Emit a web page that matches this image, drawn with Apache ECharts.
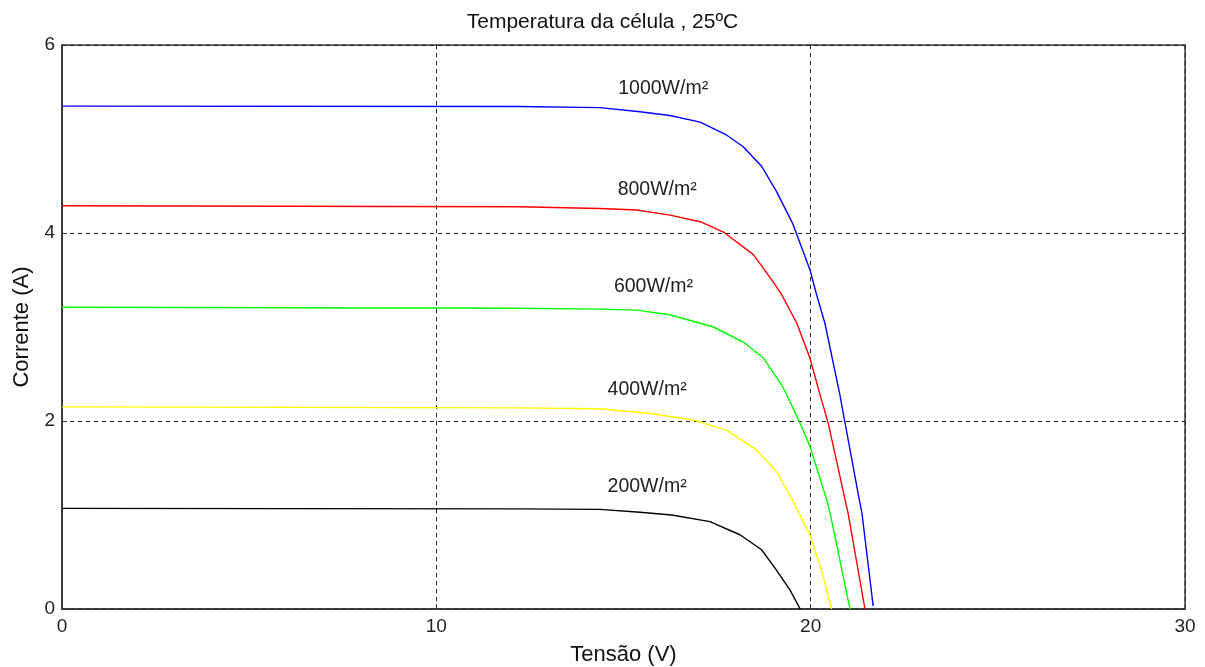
<!DOCTYPE html>
<html>
<head>
<meta charset="utf-8">
<script src="https://cdn.jsdelivr.net/npm/echarts@6/dist/echarts.min.js"></script>
<style>
  html, body { margin: 0; padding: 0; background: #fff; }
  #ivCharts { width: 1205px; height: 667px; }
</style>
</head>
<body>
<div id="ivCharts"></div>
<script>
// curvas I-V: [tensão (V), corrente (A)]
const curve1000 = [[0, 5.35], [12.2, 5.345], [14.37, 5.334], [15.44, 5.29], [16.24, 5.25], [17.05, 5.18], [17.76, 5.04], [18.19, 4.92], [18.69, 4.71], [19.09, 4.44], [19.52, 4.1], [19.98, 3.61], [20.16, 3.34], [20.38, 3.04], [20.78, 2.28], [20.92, 1.975], [21.3, 1.16], [21.37, 1.02], [21.67, 0.03]]
const curve800 = [[0, 4.29], [12.2, 4.28], [14.37, 4.26], [15.35, 4.245], [16.24, 4.19], [17.05, 4.12], [17.67, 4.01], [18.47, 3.77], [19.0, 3.48], [19.23, 3.34], [19.63, 3.04], [19.98, 2.67], [20.25, 2.28], [20.47, 1.975], [20.92, 1.16], [21.0, 1.02], [21.45, 0]]
const curve600 = [[0, 3.21], [12.2, 3.2], [14.37, 3.19], [15.35, 3.18], [16.24, 3.13], [17.4, 3.0], [18.2, 2.84], [18.74, 2.67], [19.23, 2.38], [19.36, 2.28], [19.72, 1.975], [19.98, 1.73], [20.43, 1.16], [20.52, 1.02], [21.05, 0]]
const curve400 = [[0, 2.15], [12.2, 2.14], [14.37, 2.13], [15.71, 2.08], [16.87, 2.01], [17.76, 1.9], [18.56, 1.69], [19.09, 1.46], [19.49, 1.18], [19.72, 0.99], [19.98, 0.79], [20.3, 0.4], [20.56, 0]]
const curve200 = [[0, 1.07], [12.2, 1.065], [14.37, 1.06], [15.44, 1.03], [16.29, 1.0], [17.31, 0.93], [18.11, 0.79], [18.69, 0.63], [19.09, 0.41], [19.45, 0.2], [19.72, 0]]

const curveNames = ['1000W/m²', '800W/m²', '600W/m²', '400W/m²', '200W/m²']
const curveColors = ['#0000ff', '#ff0000', '#00ff00', '#ffff00', '#000000']
// posição dos rótulos (V, A)
const labelPos = [[16.06, 5.54], [15.9, 4.46], [15.8, 3.43], [15.63, 2.33], [15.63, 1.3]]

const xTicks = [0, 10, 20, 30]
const yTicks = [0, 2, 4, 6]

const fontFam = '"Liberation Sans", Arial, sans-serif'
const allCurves = [curve1000, curve800, curve600, curve400, curve200]

const dashed = { show: true, lineStyle: { color: '#222', type: [4, 4], width: 1 } }

const _ivCharts = {
    animation: false,
    title: {
        text: 'Temperatura da célula , 25ºC',
        left: 'center',
        top: 7,
        textStyle: { fontSize: 21, fontWeight: 'normal', color: '#111', fontFamily: fontFam }
    },
    grid: {
        left: 62,
        top: 45,
        width: 1123,
        height: 564,
        outerBoundsMode: 'none',
        show: true,
        borderColor: '#333',
        borderWidth: 1.5
    },
    xAxis: {
        type: 'value',
        min: xTicks[0],
        max: xTicks[xTicks.length - 1],
        interval: 10,
        name: 'Tensão (V)',
        nameLocation: 'middle',
        nameGap: 35,
        nameTextStyle: { fontSize: 22, color: '#111', fontFamily: fontFam },
        axisLine: { show: true, lineStyle: { color: '#333', width: 1.5 } },
        axisTick: { show: true, inside: true, length: 5, lineStyle: { color: '#333' } },
        axisLabel: { fontSize: 19, color: '#222', margin: 8, fontFamily: fontFam },
        splitLine: dashed
    },
    yAxis: {
        type: 'value',
        min: yTicks[0],
        max: yTicks[yTicks.length - 1],
        interval: 2,
        name: 'Corrente (A)',
        nameLocation: 'middle',
        nameGap: 29,
        nameTextStyle: { fontSize: 22, color: '#111', fontFamily: fontFam },
        axisLine: { show: true, lineStyle: { color: '#333', width: 1.5 } },
        axisTick: { show: true, inside: true, length: 5, lineStyle: { color: '#333' } },
        axisLabel: { fontSize: 19, color: '#222', margin: 7, fontFamily: fontFam },
        splitLine: dashed
    },
    series: allCurves.map((pts, i) => ({
        name: curveNames[i],
        type: 'line',
        data: pts,
        showSymbol: false,
        lineStyle: { color: curveColors[i], width: 1.4 },
        z: 3,
        markPoint: {
            symbol: 'circle',
            symbolSize: 0,
            silent: true,
            label: {
                show: true,
                position: 'inside',
                formatter: curveNames[i],
                fontSize: 19.5,
                color: '#222',
                fontFamily: fontFam
            },
            data: [{ coord: labelPos[i] }]
        }
    }))
}

const ivCharts = echarts.init(document.getElementById('ivCharts'))
ivCharts.setOption(_ivCharts)
window.addEventListener('resize', () => ivCharts.resize())
</script>
</body>
</html>
